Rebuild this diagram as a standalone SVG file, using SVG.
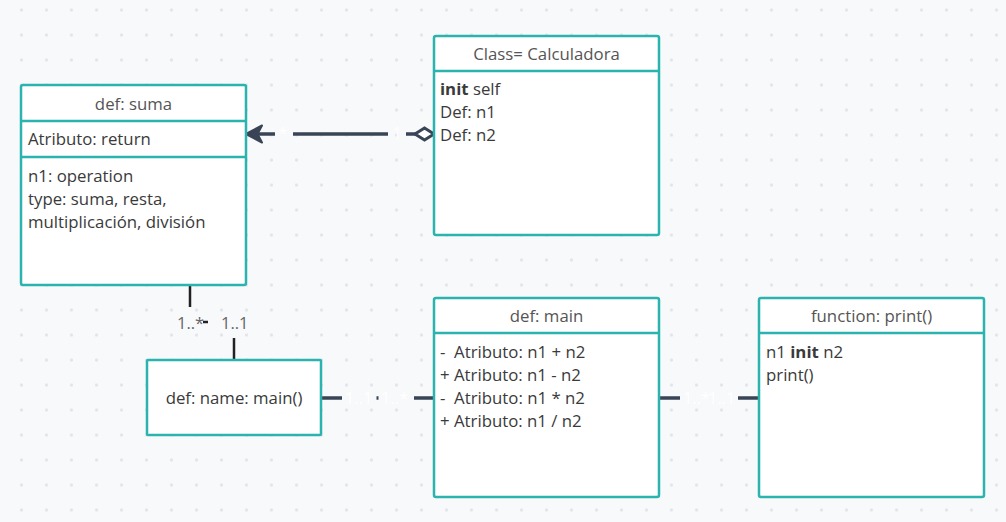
<svg xmlns="http://www.w3.org/2000/svg" width="1006" height="522" viewBox="0 0 1006 522">
<defs>
<pattern id="dots" x="9" y="-2.5" width="25" height="25" patternUnits="userSpaceOnUse">
<circle cx="12.5" cy="12.5" r="1.6" fill="#e1e3e8"/>
</pattern>
<style>
.box{fill:#fff;stroke:#2bb3b0;stroke-width:2.5}
.div{stroke:#2bb3b0;stroke-width:2.5}
.t{font-family:"Open Sans","Noto Sans",sans-serif;font-size:16.8px;fill:#555}
.b{font-family:"Open Sans","Noto Sans",sans-serif;font-size:16.8px;fill:#3a3a3a}
.c{fill:none;stroke:#394456;stroke-width:3.5}
.k{fill:none;stroke:#222;stroke-width:2.5}
.w{font-family:"Open Sans","Noto Sans",sans-serif;font-size:16.5px;fill:#fff}
.g{font-family:"Open Sans","Noto Sans",sans-serif;font-size:16.5px;fill:#666}
</style>
</defs>
<rect width="1006" height="522" fill="#f8f9fb"/>
<rect width="1006" height="522" fill="url(#dots)"/>

<g id="connectors">
<!-- Calculadora to suma -->
<line class="c" x1="255" y1="134" x2="275" y2="134"/>
<line class="c" x1="293" y1="134" x2="388" y2="134"/>
<line class="c" x1="406" y1="134" x2="416" y2="134"/>
<path d="M246,134 L262,125.5 L257.5,134 L262,142.5 Z" fill="#394456" stroke="#394456" stroke-width="2" stroke-linejoin="round"/>
<path d="M415,134 L424.5,128 L434,134 L424.5,140 Z" fill="#fff" stroke="#394456" stroke-width="3"/>
<text class="w" x="283" y="139" text-anchor="middle">*</text>
<text class="w" x="397" y="139" text-anchor="middle">1</text>
<!-- suma to name -->
<line class="k" x1="190" y1="285" x2="190" y2="307"/>
<line class="k" x1="203" y1="322" x2="208" y2="322"/>
<line class="k" x1="234" y1="338" x2="234" y2="360"/>
<text class="g" x="177" y="329">1..*</text>
<text class="g" x="221" y="329">1..1</text>
<!-- name to main -->
<line class="c" x1="321" y1="398" x2="342" y2="398"/>
<line class="c" x1="376.5" y1="398" x2="378.5" y2="398"/>
<line class="c" x1="414" y1="398" x2="434" y2="398"/>
<text class="w" x="345" y="404">1..1</text>
<text class="w" x="381" y="404">1..*</text>
<!-- main to print -->
<line class="c" x1="659" y1="398" x2="680" y2="398"/>
<line class="c" x1="738" y1="398" x2="759" y2="398"/>
<text class="w" x="683" y="404">1..*</text>
<text class="w" x="708" y="404">1..1</text>
</g>

<g id="suma">
<rect class="box" x="21" y="85" width="225" height="200" rx="2"/>
<line class="div" x1="21" y1="121" x2="246" y2="121"/>
<line class="div" x1="21" y1="157" x2="246" y2="157"/>
<text class="t" x="133.5" y="110" text-anchor="middle">def: suma</text>
<text class="b" x="28" y="145">Atributo: return</text>
<text class="b" x="28" y="182">n1: operation</text>
<text class="b" x="28" y="205">type: suma, resta,</text>
<text class="b" x="28" y="228">multiplicación, división</text>
</g>

<g id="calculadora">
<rect class="box" x="434" y="36" width="225" height="199" rx="2"/>
<line class="div" x1="434" y1="71" x2="659" y2="71"/>
<text class="t" x="546.5" y="60" text-anchor="middle">Class= Calculadora</text>
<text class="b" x="440" y="95"><tspan font-weight="bold">init</tspan> self</text>
<text class="b" x="440" y="118">Def: n1</text>
<text class="b" x="440" y="141">Def: n2</text>
</g>

<g id="name">
<rect class="box" x="147" y="360" width="174" height="75" rx="1"/>
<text class="b" x="234" y="404" text-anchor="middle" fill="#444">def: name: main()</text>
</g>

<g id="main">
<rect class="box" x="434" y="298" width="225" height="199" rx="2"/>
<line class="div" x1="434" y1="333" x2="659" y2="333"/>
<text class="t" x="546.5" y="322" text-anchor="middle">def: main</text>
<text class="b" x="440" y="358" xml:space="preserve">-  Atributo: n1 + n2</text>
<text class="b" x="440" y="381">+ Atributo: n1 - n2</text>
<text class="b" x="440" y="404" xml:space="preserve">-  Atributo: n1 * n2</text>
<text class="b" x="440" y="427">+ Atributo: n1 / n2</text>
</g>

<g id="print">
<rect class="box" x="759" y="298" width="225" height="199" rx="2"/>
<line class="div" x1="759" y1="333" x2="984" y2="333"/>
<text class="t" x="871.5" y="322" text-anchor="middle">function: print()</text>
<text class="b" x="766" y="358">n1 <tspan font-weight="bold">init</tspan> n2</text>
<text class="b" x="766" y="381">print()</text>
</g>
</svg>
